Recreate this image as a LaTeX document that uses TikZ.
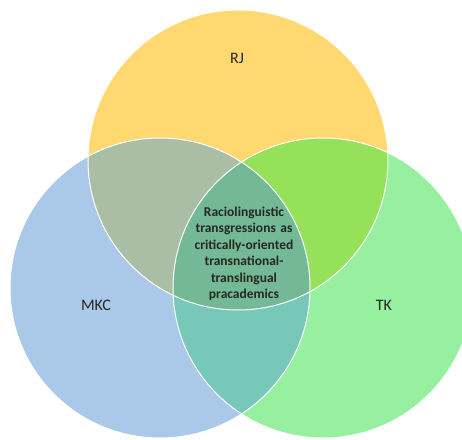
\documentclass[tikz,border=0pt]{standalone}
\usepackage{fontspec}
\setmainfont{Carlito}
\usepackage{tikz}
\usetikzlibrary{positioning}
\definecolor{rjcol}{RGB}{255, 217, 112}
\definecolor{mkccol}{RGB}{170, 201, 232}
\definecolor{tkcol}{RGB}{150, 240, 160}
\definecolor{rjmkc}{RGB}{170, 190, 165}
\definecolor{rjtk}{RGB}{150, 225, 90}
\definecolor{mkctk}{RGB}{120, 200, 185}
\definecolor{allcol}{RGB}{115, 185, 150}

\begin{document}
\begin{tikzpicture}[
            x=1pt, y=1pt,
            rim/.style={draw=white, line width=1pt},
            setlabel/.style={font=\fontsize{16}{18}\selectfont, text=black!85},
            core/.style={font=\fontsize{13.5}{16.5}\selectfont\bfseries, align=center,
                         text width=130pt, text=black!85},
          ]
          \useasboundingbox (0,0) rectangle (462,439);
          \coordinate (rj) at (238,279);
          \coordinate (mkc) at (160,151);
          \coordinate (tk) at (323,151);
          % plain sets
          \fill[rjcol] (rj) circle (150);
          \fill[mkccol] (mkc) circle (150);
          \fill[tkcol] (tk) circle (150);
          % pairwise overlaps
          \begin{scope}
            \clip (rj) circle (150);
            \fill[rjmkc] (mkc) circle (150);
            \fill[rjtk] (tk) circle (150);
          \end{scope}
          \begin{scope}
            \clip (mkc) circle (150);
            \fill[mkctk] (tk) circle (150);
            \clip (tk) circle (150);
            \fill[allcol] (rj) circle (150);
          \end{scope}
          % white rims
          \draw[rim] (rj) circle (150);
          \draw[rim] (mkc) circle (150);
          \draw[rim] (tk) circle (150);
          % labels
          \node[setlabel] (rjlab) at (237,381) {RJ};
          \node[setlabel] (mkclab) at (96,134) {MKC};
          \node[setlabel] (tklab) at (384,134) {TK};
          \node[core] (centre) at (244,185) {Raciolinguistic\\transgressions as\\critically-oriented\\transnational-\\translingual\\pracademics};
        \end{tikzpicture}
\end{document}
